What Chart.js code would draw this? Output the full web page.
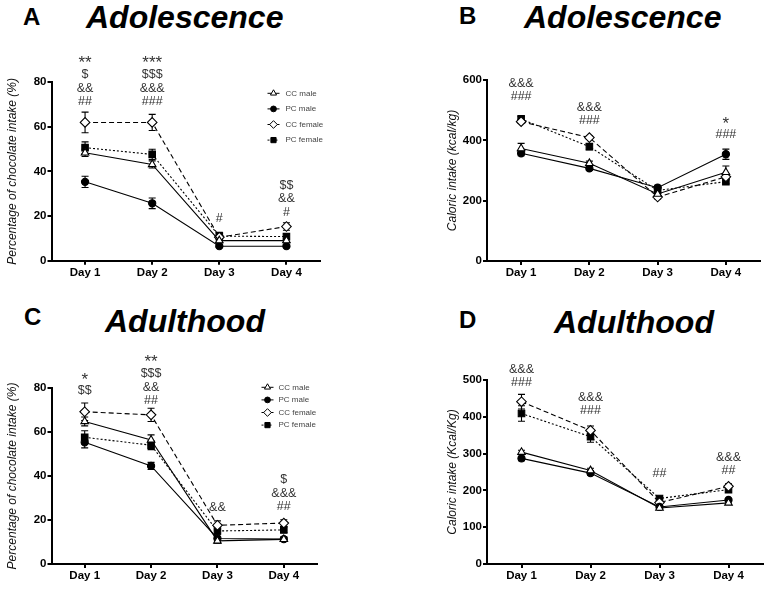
<!DOCTYPE html>
<html><head><meta charset="utf-8">
<script src="https://cdn.jsdelivr.net/npm/chart.js"></script>
<style>
html,body{margin:0;padding:0;background:#fff;width:775px;height:604px;overflow:hidden;font-family:"Liberation Sans",Arial,sans-serif;}
.lbl{position:absolute;font-weight:bold;color:#000;line-height:1;white-space:nowrap;font-size:24px;}
.ttl{position:absolute;font-weight:bold;font-style:italic;color:#000;line-height:1;white-space:nowrap;font-size:32px;}
.wrap{position:absolute;}
</style></head><body>
<div class="lbl" style="left:23px;top:5px">A</div>
<div class="ttl" style="left:86px;top:1px">Adolescence</div>
<div class="lbl" style="left:459px;top:4px">B</div>
<div class="ttl" style="left:524px;top:1px">Adolescence</div>
<div class="lbl" style="left:24px;top:305px">C</div>
<div class="ttl" style="left:105px;top:305px">Adulthood</div>
<div class="lbl" style="left:459px;top:308px">D</div>
<div class="ttl" style="left:554px;top:306px">Adulthood</div>
<script>
// ---------- data ----------
const days = ['Day 1', 'Day 2', 'Day 3', 'Day 4'];
const seriesNames = ['CC male', 'PC male', 'CC female', 'PC female'];

// Panel A: percentage of chocolate intake, adolescence
const aCCmale = [48.3, 43.1, 9.0, 9.0];
const aCCmaleErr = [1.6, 1.6, 1.0, 0.8];
const aPCmale = [35.3, 25.7, 6.5, 6.5];
const aPCmaleErr = [2.5, 2.4, 0.6, 0.6];
const aCCfemale = [61.9, 61.9, 10.5, 15.3];
const aCCfemaleErr = [4.6, 3.6, 1.5, 1.7];
const aPCfemale = [50.6, 47.6, 11.0, 10.8];
const aPCfemaleErr = [2.6, 2.3, 1.7, 1.2];
const aAnnot = [['**', '$', '&&', '##'], ['***', '$$$', '&&&', '###'], ['#'], ['$$', '&&', '#']];
const aAnnotBase = [71.1, 71.1, 19, 21.5];

// Panel B: caloric intake, adolescence
const bCCmale = [373, 324, 222, 294];
const bCCmaleErr = [17, 7, 8, 21];
const bPCmale = [357, 307, 243, 354];
const bPCmaleErr = [8, 7, 8, 17];
const bCCfemale = [462, 409, 212, 279];
const bCCfemaleErr = [6, 6, 6, 10];
const bPCfemale = [471, 379, 234, 263];
const bPCfemaleErr = [8, 10, 10, 7];
const bAnnot = [['&&&', '###'], ['&&&', '###'], [], ['*', '###']];
const bAnnotBase = [544, 464, null, 418];

// Panel C: percentage of chocolate intake, adulthood
const cCCmale = [64.8, 56.4, 10.5, 11.2];
const cCCmaleErr = [2.0, 2.3, 1.0, 1.0];
const cPCmale = [55.3, 44.6, 11.6, 11.3];
const cPCmaleErr = [2.5, 1.6, 1.0, 1.0];
const cCCfemale = [69.2, 67.8, 17.6, 18.6];
const cCCfemaleErr = [4.0, 3.0, 2.0, 1.5];
const cPCfemale = [57.6, 54.0, 15.0, 15.5];
const cPCfemaleErr = [3.0, 2.0, 1.5, 1.2];
const cAnnot = [['*', '$$'], ['**', '$$$', '&&', '##'], ['&&'], ['$', '&&&', '##']];
const cAnnotBase = [78.8, 74.2, 25.5, 25.9];

// Panel D: caloric intake, adulthood
const dCCmale = [304, 254, 152, 166];
const dCCmaleErr = [5, 6, 4, 4];
const dPCmale = [287, 247, 155, 174];
const dPCmaleErr = [6, 6, 4, 4];
const dCCfemale = [441, 363, 167, 211];
const dCCfemaleErr = [20, 12, 6, 7];
const dPCfemale = [409, 346, 178, 202];
const dPCfemaleErr = [21, 15, 6, 7];
const dAnnot = [['&&&', '###'], ['&&&', '###'], ['##'], ['&&&', '##']];
const dAnnotBase = [491.8, 415.8, 244.6, 252.7];

// ---------- styles ----------
const FONT = '"Liberation Sans", Arial, sans-serif';
const seriesStyle = [
  {borderDash: [], pointStyle: 'triangle', pointRadius: 4.4, pointBackgroundColor: '#fff'},
  {borderDash: [], pointStyle: 'circle', pointRadius: 3.6, pointBackgroundColor: '#000'},
  {borderDash: [5, 3], pointStyle: 'rectRot', pointRadius: 4.8, pointBackgroundColor: '#fff'},
  {borderDash: [2, 2], pointStyle: 'rect', pointRadius: 4.6, pointBackgroundColor: '#000'}
];

const errPlugin = {
  id: 'errbars',
  beforeDatasetsDraw(chart) {
    const ctx = chart.ctx, ys = chart.scales.y;
    chart.data.datasets.forEach((ds, i) => {
      const meta = chart.getDatasetMeta(i);
      meta.data.forEach((pt, j) => {
        const v = ds.data[j], e = ds.err[j];
        const yt = ys.getPixelForValue(v + e), yb = ys.getPixelForValue(v - e);
        ctx.save();
        ctx.strokeStyle = '#000'; ctx.lineWidth = 1.1; ctx.setLineDash([]);
        ctx.beginPath();
        ctx.moveTo(pt.x, yt); ctx.lineTo(pt.x, yb);
        ctx.moveTo(pt.x - 3.5, yt); ctx.lineTo(pt.x + 3.5, yt);
        ctx.moveTo(pt.x - 3.5, yb); ctx.lineTo(pt.x + 3.5, yb);
        ctx.stroke();
        ctx.restore();
      });
    });
  }
};

const annotPlugin = {
  id: 'annot',
  afterDatasetsDraw(chart, args, opts) {
    const ctx = chart.ctx, xs = chart.scales.x, ys = chart.scales.y;
    ctx.save();
    ctx.fillStyle = '#333';
    ctx.textAlign = 'center';
    ctx.textBaseline = 'middle';
    opts.lines.forEach((arr, j) => {
      if (!arr.length || opts.base[j] == null) return;
      const x = xs.getPixelForValue(j);
      const y0 = ys.getPixelForValue(opts.base[j]);
      const n = arr.length;
      arr.forEach((t, k) => {
        const star = /^\*+$/.test(t);
        ctx.font = (star ? '17px ' : '12.5px ') + FONT;
        ctx.fillText(t, x, y0 - (n - 1 - k) * 13.7 + (star ? 3 : 0));
      });
    });
    ctx.restore();
  }
};

const legendPlugin = {
  id: 'lgd',
  afterDatasetsDraw(chart, args, opts) {
    if (!opts.show) return;
    const ctx = chart.ctx, ca = chart.chartArea;
    chart.data.datasets.forEach((ds, i) => {
      const x = ca.left + opts.dx, y = ca.top + opts.dy + i * opts.gap;
      ctx.save();
      ctx.strokeStyle = '#000'; ctx.lineWidth = 1;
      ctx.setLineDash(ds.borderDash);
      ctx.beginPath(); ctx.moveTo(x - 6, y); ctx.lineTo(x + 6, y); ctx.stroke();
      ctx.setLineDash([]);
      ctx.fillStyle = ds.pointBackgroundColor; ctx.strokeStyle = '#000'; ctx.lineWidth = 1;
      Chart.helpers.drawPoint(ctx, {pointStyle: ds.pointStyle, radius: ds.pointRadius * 0.8, rotation: 0, borderWidth: 1}, x, y);
      ctx.fillStyle = '#444';
      ctx.font = '8px ' + FONT;
      ctx.textAlign = 'left'; ctx.textBaseline = 'middle';
      ctx.fillText(ds.label, x + opts.textDx, y);
      ctx.restore();
    });
  }
};

function makePanel(cfg) {
  const wrap = document.createElement('div');
  wrap.className = 'wrap';
  wrap.style.left = cfg.left + 'px'; wrap.style.top = cfg.top + 'px';
  wrap.style.width = cfg.w + 'px'; wrap.style.height = cfg.h + 'px';
  const canvas = document.createElement('canvas');
  canvas.width = cfg.w; canvas.height = cfg.h;
  canvas.style.width = cfg.w + 'px'; canvas.style.height = cfg.h + 'px';
  wrap.appendChild(canvas);
  document.body.appendChild(wrap);
  const datasets = seriesNames.map((name, i) => Object.assign({
    label: name,
    data: cfg.values[i],
    err: cfg.errors[i],
    borderColor: '#000',
    borderWidth: 1.1,
    pointBorderColor: '#000',
    pointBorderWidth: 1.1,
    pointHoverRadius: seriesStyle[i].pointRadius,
    tension: 0,
    fill: false
  }, seriesStyle[i]));
  new Chart(canvas, {
    type: 'line',
    data: {labels: days, datasets},
    plugins: [errPlugin, annotPlugin, legendPlugin],
    options: {
      responsive: false,
      devicePixelRatio: 1,
      animation: false,
      layout: {padding: cfg.pad},
      plugins: {
        legend: {display: false},
        tooltip: {enabled: false},
        annot: {lines: cfg.annot, base: cfg.annotBase},
        lgd: cfg.legend
      },
      scales: {
        x: {
          type: 'category',
          offset: true,
          grid: {offset: false, drawOnChartArea: false, drawTicks: true, tickLength: 4, color: '#000', lineWidth: 2},
          border: {display: true, color: '#000', width: 2},
          ticks: {color: '#000', font: {family: FONT, size: 11.5, weight: 'bold'}, padding: 1, maxRotation: 0, autoSkip: false},
          afterFit: s => { s.height = cfg.xH; }
        },
        y: {
          min: 0, max: cfg.yMax,
          ticks: {stepSize: cfg.step, color: '#000', font: {family: FONT, size: 11.5, weight: 'bold'}, padding: 1},
          grid: {drawOnChartArea: false, drawTicks: true, tickLength: 4, color: '#000', lineWidth: 2},
          border: {display: true, color: '#000', width: 2},
          title: {display: true, text: cfg.yTitle, color: '#111', font: {family: FONT, size: 12, style: 'italic'}, padding: {top: 4, bottom: 0}},
          afterFit: s => { s.width = cfg.yW; }
        }
      }
    }
  });
}

makePanel({
  left: 0, top: 0, w: 387, h: 295,
  pad: {left: 1, top: 82, right: 67, bottom: 0}, yW: 50.5, xH: 34.3,
  yMax: 80, step: 20, yTitle: 'Percentage of chocolate intake (%)',
  values: [aCCmale, aPCmale, aCCfemale, aPCfemale],
  errors: [aCCmaleErr, aPCmaleErr, aCCfemaleErr, aPCfemaleErr],
  annot: aAnnot, annotBase: aAnnotBase,
  legend: {show: true, dx: 222, dy: 11.3, gap: 15.6, textDx: 12}
});
makePanel({
  left: 392, top: 0, w: 383, h: 295,
  pad: {left: 49, top: 80, right: 15, bottom: 0}, yW: 46, xH: 34,
  yMax: 600, step: 200, yTitle: 'Caloric intake (kcal/kg)',
  values: [bCCmale, bPCmale, bCCfemale, bPCfemale],
  errors: [bCCmaleErr, bPCmaleErr, bCCfemaleErr, bPCfemaleErr],
  annot: bAnnot, annotBase: bAnnotBase,
  legend: {show: false}
});
makePanel({
  left: 0, top: 295, w: 387, h: 309,
  pad: {left: 1, top: 93, right: 70, bottom: 0}, yW: 50.5, xH: 40,
  yMax: 80, step: 20, yTitle: 'Percentage of chocolate intake (%)',
  values: [cCCmale, cPCmale, cCCfemale, cPCfemale],
  errors: [cCCmaleErr, cPCmaleErr, cCCfemaleErr, cPCfemaleErr],
  annot: cAnnot, annotBase: cAnnotBase,
  legend: {show: true, dx: 216, dy: -0.7, gap: 12.6, textDx: 11}
});
makePanel({
  left: 392, top: 295, w: 383, h: 309,
  pad: {left: 49, top: 85, right: 12, bottom: 0}, yW: 46, xH: 40,
  yMax: 500, step: 100, yTitle: 'Caloric intake (Kcal/Kg)',
  values: [dCCmale, dPCmale, dCCfemale, dPCfemale],
  errors: [dCCmaleErr, dPCmaleErr, dCCfemaleErr, dPCfemaleErr],
  annot: dAnnot, annotBase: dAnnotBase,
  legend: {show: false}
});
</script>
</body></html>
